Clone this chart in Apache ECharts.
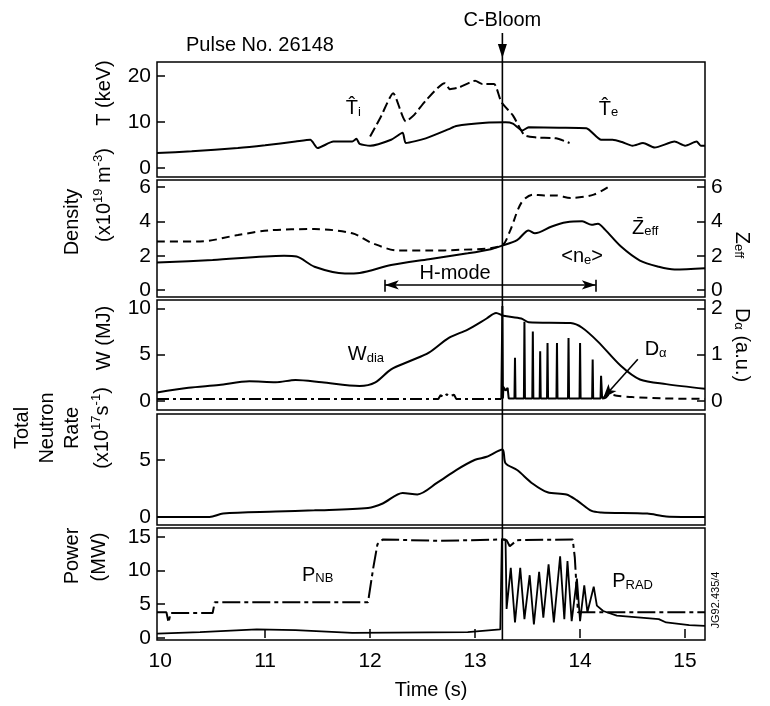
<!DOCTYPE html>
<html><head><meta charset="utf-8">
<script src="https://cdn.jsdelivr.net/npm/echarts@6/dist/echarts.min.js"></script>
<style>html,body{margin:0;padding:0;background:#fff}#c{width:770px;height:706px}</style>
</head><body><div id="c"></div>
<script>
// ---------------- data ----------------
const xTickValues = [10, 11, 12, 13, 14, 15];
const xInnerTicks = [11, 12, 13, 14, 15];
const tempTicks = [0, 10, 20];
const densTicks = [0, 2, 4, 6];
const zeffTicks = [0, 2, 4, 6];
const wTicks = [0, 5, 10];
const daTicks = [0, 1, 2];
const neutronTicks = [0, 5];
const powerTicks = [0, 5, 10, 15];
const bloomTime = 13.26;
const hmodeRange = [12.14, 14.15];

const teData = [[9.97,3.2],[10.3,3.6],[10.74,4.3],[11.0,4.9],[11.29,5.7],[11.43,6.1],[11.5,4.3],[11.65,5.7],[11.83,5.7],[11.87,6.3],[11.9,5.2],[12.0,4.8],[12.2,6.1],[12.31,7.6],[12.34,5.4],[12.53,6.4],[12.75,8.4],[12.82,9.1],[13.1,9.8],[13.29,9.9],[13.36,9.6],[13.45,8.1],[13.51,8.8],[13.8,8.7],[14.06,8.6],[14.2,6.1],[14.31,6.1],[14.4,5.6],[14.5,4.8],[14.6,5.4],[14.71,4.4],[14.9,5.7],[15.0,4.8],[15.11,5.7],[15.15,4.8],[15.19,4.8]];
const tiData = [[12.0,6.8],[12.1,11.0],[12.22,16.2],[12.34,10.1],[12.42,11.5],[12.53,14.6],[12.71,18.4],[12.76,17.1],[12.85,17.5],[13.0,18.9],[13.07,18.2],[13.18,18.2],[13.25,14.3],[13.36,11.4],[13.47,7.1],[13.58,6.6],[13.77,6.4],[13.9,5.4]];

const neData = [[9.97,1.6],[10.5,1.75],[11.18,2.0],[11.3,1.95],[11.47,1.36],[11.76,0.97],[11.9,1.0],[12.2,1.46],[12.56,1.8],[12.93,2.14],[13.15,2.38],[13.25,2.57],[13.4,2.9],[13.51,3.47],[13.57,3.3],[13.73,3.7],[13.87,3.94],[14.02,4.0],[14.11,3.8],[14.17,3.86],[14.24,3.5],[14.39,2.53],[14.57,1.72],[14.75,1.36],[14.9,1.2],[15.19,1.27]];
const zeffData = [[9.97,2.83],[10.38,2.83],[10.74,3.2],[11.03,3.47],[11.47,3.55],[11.83,3.3],[12.02,2.73],[12.27,2.3],[12.56,2.3],[12.85,2.34],[13.25,2.57],[13.33,3.4],[13.44,5.07],[13.55,5.55],[13.66,5.5],[13.77,5.5],[13.91,5.36],[14.13,5.55],[14.28,6.04]];

const wData = [[9.97,0.9],[10.27,1.4],[10.56,1.7],[10.85,2.1],[11.1,2.0],[11.29,2.25],[11.54,2.0],[11.9,1.6],[12.05,2.0],[12.2,3.4],[12.38,4.3],[12.56,5.2],[12.75,6.8],[12.93,7.7],[13.11,8.9],[13.2,9.5],[13.27,9.2],[13.44,8.9],[13.51,8.5],[13.91,8.4],[14.02,7.9],[14.17,6.4],[14.39,3.75],[14.57,2.3],[14.82,1.8],[15.19,1.3]];
const daPre = [[9.97,0.04],[12.65,0.04],[12.67,0.12],[12.7,0.08],[12.73,0.14],[12.76,0.1],[12.8,0.13],[12.82,0.04],[13.25,0.04]];
const daElm = [[13.25,0.04],[13.26,2.05],[13.265,0.05],[13.27,0.3],[13.29,0.22],[13.31,0.28],[13.32,0.05],[13.375,0.05],[13.38,0.93],[13.385,0.05],[13.465,0.05],[13.47,1.71],[13.475,0.05],[13.545,0.05],[13.55,1.5],[13.555,0.05],[13.615,0.05],[13.62,1.07],[13.625,0.05],[13.685,0.05],[13.69,1.25],[13.695,0.05],[13.775,0.05],[13.78,1.25],[13.785,0.05],[13.885,0.05],[13.89,1.36],[13.895,0.05],[13.995,0.05],[14.0,1.25],[14.005,0.05],[14.115,0.05],[14.12,0.89],[14.125,0.05],[14.195,0.05],[14.2,0.54],[14.21,0.05]];
const daPost = [[14.21,0.05],[14.24,0.06],[14.28,0.14],[14.35,0.11],[14.5,0.08],[14.8,0.05],[15.19,0.04]];

const neutronData = [[9.97,0],[10.47,0],[10.6,0.3],[11.1,0.47],[11.47,0.58],[11.98,0.79],[12.12,1.18],[12.31,2.1],[12.45,1.97],[12.64,3.0],[12.82,4.1],[13.0,5.0],[13.11,5.26],[13.26,5.9],[13.29,4.7],[13.4,4.1],[13.55,2.9],[13.69,2.16],[13.87,1.97],[13.97,1.45],[14.11,0.53],[14.2,0.4],[14.64,0.3],[14.82,0.05],[15.19,0]];

const pnbData = [[9.97,3.8],[10.06,3.8],[10.08,2.3],[10.1,3.7],[10.5,3.7],[10.52,5.3],[11.98,5.3],[12.03,10.4],[12.07,13.9],[12.12,14.6],[12.67,14.4],[13.26,14.6],[13.3,14.5],[13.33,13.6],[13.4,14.5],[13.93,14.6],[13.95,11.9],[13.98,3.8],[15.19,3.8]];
const pradData = [[9.97,0.65],[10.38,0.86],[10.92,1.26],[11.29,1.16],[11.83,0.76],[12.93,0.86],[13.24,1.26],[13.255,14.6],[13.29,14.6],[13.3,4.3],[13.34,10.4],[13.38,2.3],[13.43,10.4],[13.47,2.8],[13.52,9.3],[13.56,2.0],[13.61,9.8],[13.65,3.0],[13.7,10.9],[13.75,2.3],[13.81,12.1],[13.85,2.8],[13.88,11.4],[13.92,2.5],[13.97,8.8],[14.0,2.5],[14.04,7.8],[14.07,3.8],[14.13,7.6],[14.16,4.8],[14.22,4.0],[14.35,3.3],[14.75,2.8],[14.82,2.3],[15.04,1.9],[15.19,1.8]];

// ---------------- chart ----------------
const FONT = 'Liberation Sans, Arial, Helvetica, sans-serif';
const chart = echarts.init(document.getElementById('c'), null, {renderer: 'canvas'});
const BLACK = '#000';
const L = 157, W = 548;
const gridBoxes = [[62,115],[180,117],[300,110],[414,111],[528,112]];
const yRanges = [[-2,23],[-0.4,6.4],[-0.4,6.4],[-1,10.9],[-0.2,2.18],[-0.7,9],[-0.3,16.3]];

const rich = {
  m: {fontSize: 20, fontFamily: FONT, color: BLACK},
  s: {fontSize: 13, fontFamily: FONT, color: BLACK, verticalAlign: 'bottom', lineHeight: 8},
  u: {fontSize: 13, fontFamily: FONT, color: BLACK, verticalAlign: 'top', lineHeight: 8}
};

function yAxis(grid, idx, pos, ticks) {
  return {
    type: 'value', gridIndex: grid, position: pos, min: yRanges[idx][0], max: yRanges[idx][1],
    axisLine: {show: false}, splitLine: {show: false},
    axisTick: {show: true, inside: true, length: 8, lineStyle: {color: BLACK, width: 1.5}, customValues: ticks},
    axisLabel: {show: true, customValues: ticks, color: BLACK, fontSize: 21, fontFamily: FONT, margin: 6}
  };
}
function xAxis(i) {
  const bottom = i === 4;
  return {
    type: 'value', gridIndex: i, min: 9.97, max: 15.19,
    axisLine: {show: false}, splitLine: {show: false},
    axisTick: {show: bottom, inside: true, length: 9, lineStyle: {color: BLACK, width: 1.5}, customValues: xInnerTicks},
    axisLabel: {show: bottom, customValues: xTickValues, color: BLACK, fontSize: 21, fontFamily: FONT, margin: 11}
  };
}
function line(data, xi, yi, dash, width, smooth) {
  return {
    type: 'line', xAxisIndex: xi, yAxisIndex: yi, data: data, showSymbol: false, symbol: 'none',
    smooth: smooth || false, animation: false, silent: true,
    lineStyle: {color: BLACK, width: width || 2, type: dash || 'solid'}
  };
}
function labelPoint(coord, text) {
  return {coord: coord, symbol: 'circle', symbolSize: 0,
    label: {show: true, position: 'inside', formatter: text, rich: rich, color: BLACK}};
}
function mp(points) {
  return {silent: true, animation: false, data: points};
}

const teS = line(teData, 0, 0, 'solid', 2, 0.2);
teS.markPoint = mp([labelPoint([11.84, 12.9], '{m|T\u0302}{s|i}'), labelPoint([14.27, 12.7], '{m|T\u0302}{s|e}')]);
const tiS = line(tiData, 0, 0, [10, 4], 2, 0.2);

const neS = line(neData, 1, 1, 'solid', 2, 0.3);
neS.markPoint = mp([labelPoint([14.02, 1.95], '{m|<n}{s|e}{m|>}'), labelPoint([12.81, 0.97], '{m|H-mode}')]);
neS.markLine = {silent: true, animation: false, symbol: 'none', label: {show: false},
  lineStyle: {color: BLACK, width: 1.6, type: 'solid'},
  data: [
    [{coord: [hmodeRange[0], 0.3], symbol: 'arrow', symbolSize: [7, 14]}, {coord: [hmodeRange[1], 0.3], symbol: 'arrow', symbolSize: [7, 14]}],
    [{coord: [hmodeRange[0], -0.1]}, {coord: [hmodeRange[0], 0.6]}],
    [{coord: [hmodeRange[1], -0.1]}, {coord: [hmodeRange[1], 0.6]}]
  ]};
const zeffS = line(zeffData, 1, 2, [8, 5], 2, 0.3);
zeffS.markPoint = mp([labelPoint([14.62, 3.6], '{m|Z\u0304}{s|eff}')]);

const wS = line(wData, 2, 3, 'solid', 2, 0.3);
wS.markPoint = mp([labelPoint([11.96, 5.0], '{m|W}{s|dia}'), labelPoint([14.72, 5.5], '{m|D}{s|\u03b1}')]);
wS.markLine = {silent: true, animation: false, symbol: 'none', label: {show: false},
  lineStyle: {color: BLACK, width: 1.6, type: 'solid'},
  data: [[{coord: [14.55, 4.5]}, {coord: [14.22, 0.3], symbol: 'arrow', symbolSize: [8, 14]}]]};
const daPreS = line(daPre, 2, 4, [12, 4, 3, 4], 2);
const daElmS = line(daElm, 2, 4, 'solid', 2);
const daPostS = line(daPost, 2, 4, [8, 5], 2, 0.3);

const neutS = line(neutronData, 3, 5, 'solid', 2, 0.3);

const pnbS = line(pnbData, 4, 6, [18, 4, 4, 4], 2);
pnbS.markPoint = mp([labelPoint([11.5, 9.3], '{m|P}{s|NB}'), labelPoint([14.5, 8.3], '{m|P}{s|RAD}')]);
const pradS = line(pradData, 4, 6, 'solid', 1.8);

const option = {
  backgroundColor: '#fff',
  animation: false,
  grid: gridBoxes.map(g => ({left: L, width: W, top: g[0], height: g[1], show: true, borderColor: BLACK, borderWidth: 1.5, backgroundColor: 'transparent', containLabel: false})),
  xAxis: [0,1,2,3,4].map(xAxis),
  yAxis: [
    yAxis(0, 0, 'left', tempTicks),
    yAxis(1, 1, 'left', densTicks),
    yAxis(1, 2, 'right', zeffTicks),
    yAxis(2, 3, 'left', wTicks),
    yAxis(2, 4, 'right', daTicks),
    yAxis(3, 5, 'left', neutronTicks),
    yAxis(4, 6, 'left', powerTicks)
  ],
  series: [teS, tiS, neS, zeffS, wS, daPreS, daElmS, daPostS, neutS, pnbS, pradS]
};
chart.setOption(option);

// ---------------- annotations ----------------
const bx = chart.convertToPixel({xAxisIndex: 0}, bloomTime);
const bottomY = gridBoxes[4][0] + gridBoxes[4][1];
function rtext(x, y, text, size) {
  return {type: 'text', x: x, y: y, rotation: Math.PI / 2, silent: true,
    style: {text: text, rich: rich, fontSize: size || 20, fontFamily: FONT, fill: BLACK, align: 'center', verticalAlign: 'middle', lineHeight: 25}};
}
chart.setOption({graphic: [
  {type: 'line', silent: true, shape: {x1: bx, y1: 33, x2: bx, y2: bottomY}, style: {stroke: BLACK, lineWidth: 1.6}},
  {type: 'polygon', silent: true, shape: {points: [[bx - 4.5, 44], [bx + 4.5, 44], [bx, 58]]}, style: {fill: BLACK}},
  {type: 'text', x: bx, y: 20, silent: true, style: {text: 'C-Bloom', fontSize: 20, fontFamily: FONT, fill: BLACK, align: 'center', verticalAlign: 'middle'}},
  {type: 'text', x: 186, y: 45, silent: true, style: {text: 'Pulse No. 26148', fontSize: 20, fontFamily: FONT, fill: BLACK, align: 'left', verticalAlign: 'middle'}},
  {type: 'text', x: 431, y: 690, silent: true, style: {text: 'Time (s)', fontSize: 20, fontFamily: FONT, fill: BLACK, align: 'center', verticalAlign: 'middle'}},
  rtext(104, 93, '{m|T (keV)}'),
  rtext(104, 195, '{m|(x10}{u|19}{m| m}{u|-3}{m|)}'),
  rtext(72, 222, '{m|Density}'),
  rtext(104, 338, '{m|W (MJ)}'),
  rtext(22, 428, '{m|Total}'),
  rtext(47, 428, '{m|Neutron}'),
  rtext(72, 428, '{m|Rate}'),
  rtext(102, 428, '{m|(x10}{u|17}{m|s}{u|-1}{m|)}'),
  rtext(72, 556, '{m|Power}'),
  rtext(99, 557, '{m|(MW)}'),
  {type: 'text', x: 742, y: 245, rotation: -Math.PI / 2, silent: true, style: {text: '{m|Z}{s|eff}', rich: rich, align: 'center', verticalAlign: 'middle'}},
  {type: 'text', x: 742, y: 345, rotation: -Math.PI / 2, silent: true, style: {text: '{m|D}{s|\u03b1}{m| (a.u.)}', rich: rich, align: 'center', verticalAlign: 'middle'}},
  {type: 'text', x: 716, y: 600, rotation: Math.PI / 2, silent: true, style: {text: 'JG92.435/4', fontSize: 11, fontFamily: FONT, fill: BLACK, align: 'center', verticalAlign: 'middle'}}
]});
</script>
</body></html>
